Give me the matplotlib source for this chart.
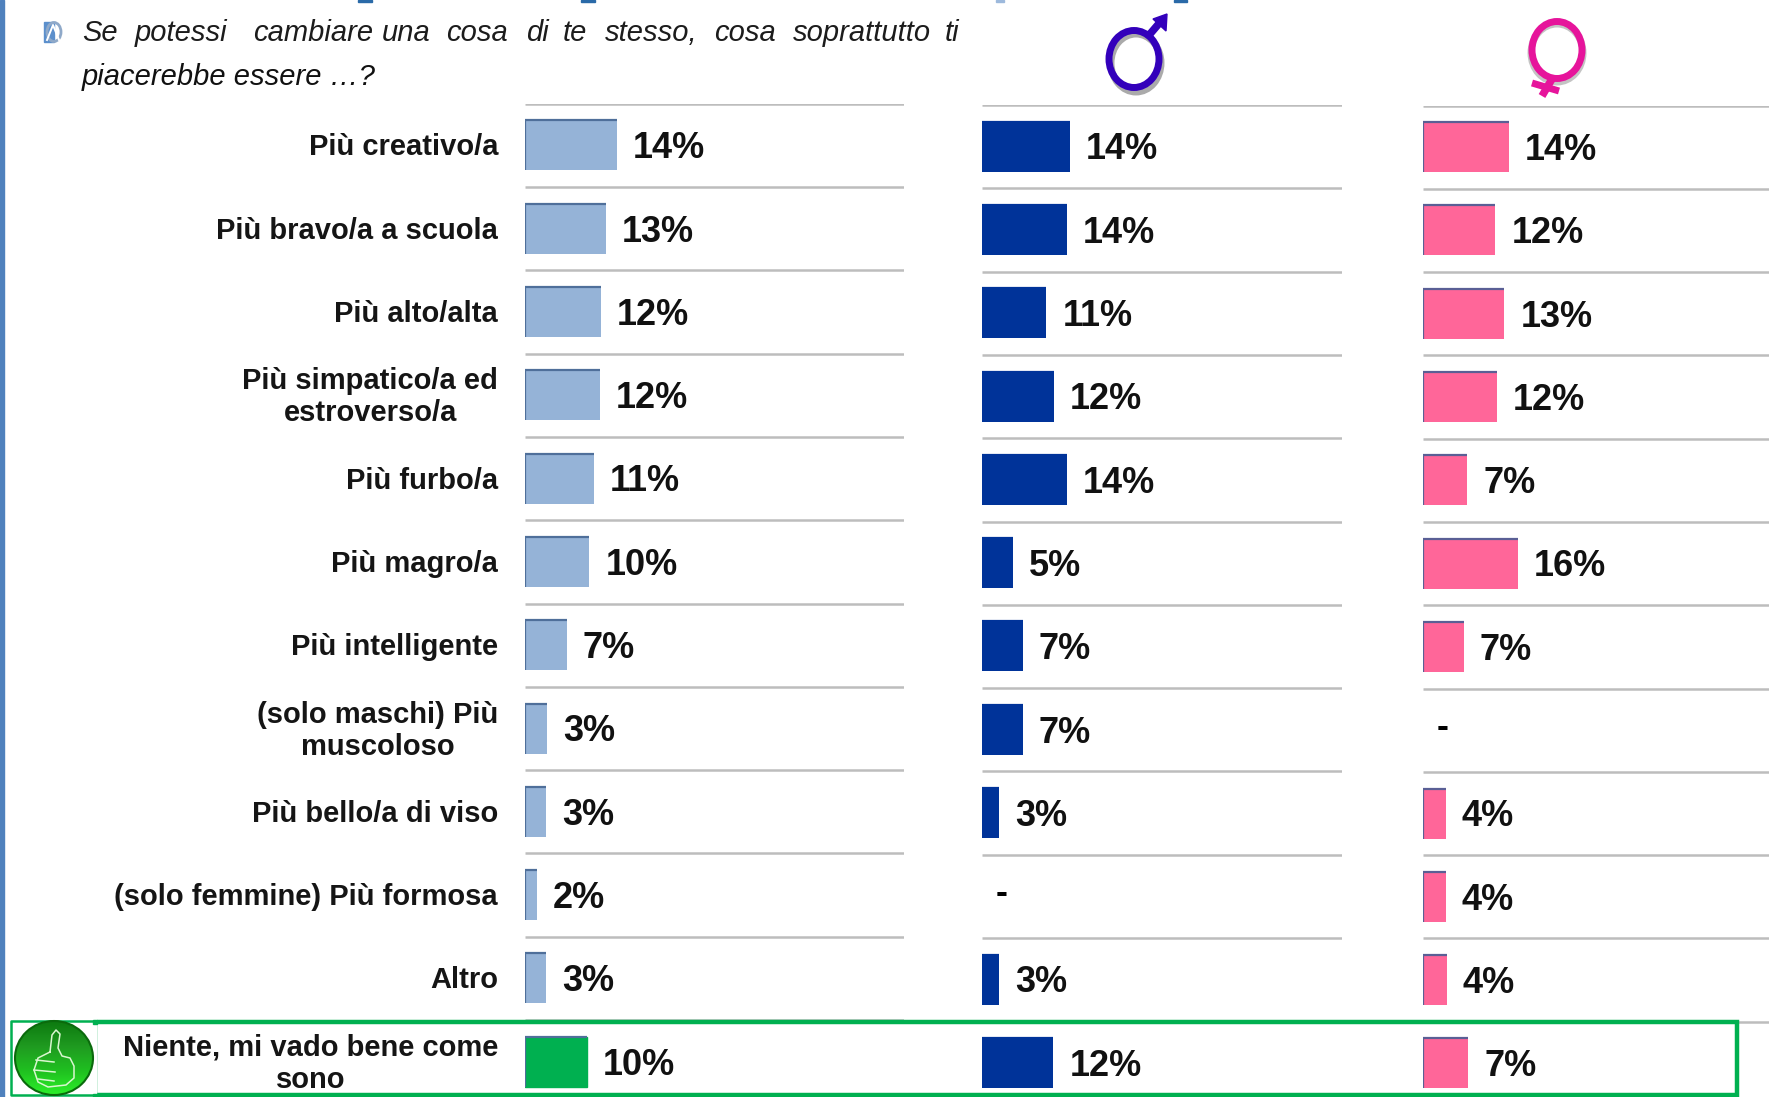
import numpy as np
import matplotlib
matplotlib.use("Agg")
import matplotlib.pyplot as plt
from matplotlib.patches import Ellipse, Rectangle

plt.rcParams['font.family'] = ['Liberation Sans', 'DejaVu Sans']

categories = ["Più creativo/a", "Più bravo/a a scuola", "Più alto/alta",
              "Più simpatico/a ed\nestroverso/a", "Più furbo/a", "Più magro/a",
              "Più intelligente", "(solo maschi) Più\nmuscoloso", "Più bello/a di viso",
              "(solo femmine) Più formosa", "Altro", "Niente, mi vado bene come\nsono"]

# bar lengths, the printed labels are rounded
totale = [14.1, 12.5, 11.7, 11.5, 10.6, 9.9, 6.4, 3.4, 3.2, 1.8, 3.2, 9.5]
maschi = [14.0, 13.5, 10.3, 11.5, 13.5, 4.9, 6.5, 6.5, 2.7, np.nan, 2.7, 11.4]
femmine = [14.3, 12.1, 13.6, 12.3, 7.4, 15.9, 6.8, np.nan, 3.8, 3.8, 4.0, 7.6]

totale_labels = ["14%", "13%", "12%", "12%", "11%", "10%", "7%", "3%", "3%", "2%", "3%", "10%"]
maschi_labels = ["14%", "14%", "11%", "12%", "14%", "5%", "7%", "7%", "3%", "-", "3%", "12%"]
femmine_labels = ["14%", "12%", "13%", "12%", "7%", "16%", "7%", "-", "4%", "4%", "4%", "7%"]

question_words = ["Se", "potessi", "cambiare", "una", "cosa", "di", "te", "stesso,", "cosa", "soprattutto", "ti"]
question_x = [82, 135, 253, 382, 446, 526, 563, 605, 714, 793, 945]
question_end = "piacerebbe essere …?"

W, H = 1769, 1097
STEP = 83.3

fig = plt.figure(figsize=(W / 100, H / 100), dpi=100, facecolor="white")


def make_panel(left, right, top, px_per_pct, values, labels, color, edge):
    bottom = top + 12 * STEP
    ax = fig.add_axes([left / W, 1 - bottom / H, (right - left) / W, (bottom - top) / H])
    ax.set_xlim(0, (right - left) / px_per_pct)
    ax.set_ylim(11.5, -0.5)
    ax.axis("off")
    ax.patch.set_alpha(0)
    y = np.arange(len(values))
    ax.barh(y, values, height=0.6, color=color, zorder=2)
    # darker top and left side of the bars
    ax.hlines(y - 0.3, 0, values, color=edge, lw=1.6, zorder=3)
    ax.vlines(np.where(np.isnan(values), np.nan, 0), y - 0.3, y + 0.3, color=edge, lw=1.6, zorder=3)
    ax.hlines(np.arange(12) - 0.5, 0, ax.get_xlim()[1], color="#bdbdbd", lw=1.8, zorder=1)
    gap = 16 / px_per_pct
    for i in y:
        if labels[i] == "-":
            ax.text(14 / px_per_pct, i - 0.03, "-", fontsize=26, fontweight="bold", ha="left", va="center")
        else:
            ax.text(values[i] + gap, i + 0.04, labels[i], fontsize=26, fontweight="bold",
                    ha="left", va="center", color="#111111")
    return ax


ax1 = make_panel(525, 904, 103.8, 6.49, totale, totale_labels, "#95B3D7", "#4f6f9a")
ax2 = make_panel(982, 1342, 105, 6.26, maschi, maschi_labels, "#003399", "#003399")
ax3 = make_panel(1423, 1769, 105.5, 5.98, femmine, femmine_labels, "#FF6699", "#5a5f95")

# the last bar of the first panel is green
ax1.patches[-1].set_color("#00B050")

for i, name in enumerate(categories):
    ax1.annotate(name, (0, i), xytext=(-27, -2), textcoords="offset pixels", annotation_clip=False,
                 ha="right", va="center", ma="center", fontsize=21, fontweight="bold",
                 color="#151515", linespacing=1.18)

# overlay in pixel coordinates for the decoration
ov = fig.add_axes([0, 0, 1, 1])
ov.set_xlim(0, W)
ov.set_ylim(H, 0)
ov.axis("off")
ov.patch.set_alpha(0)

ov.add_patch(Rectangle((0, 0), 3.5, H, color="#4F81BD"))

# bottoms of the cut off title
ov.add_patch(Rectangle((358, 0), 14, 2, color="#2a6aa8"))
ov.add_patch(Rectangle((581, 0), 14, 2, color="#2a6aa8"))
ov.add_patch(Rectangle((996, 0), 8, 2, color="#9db9dc"))
ov.add_patch(Rectangle((1174, 0), 13, 2, color="#2a6aa8"))

# question text, first line is justified so each word is placed alone
for word, x in zip(question_words, question_x):
    ov.text(x, 33, word, fontsize=21, style="italic", ha="left", va="center", color="#1c1c1c")
ov.text(82, 77, question_end, fontsize=21, style="italic", ha="left", va="center", color="#111111")

# bullet
ov.add_patch(Rectangle((44, 22), 10, 20, color="#5b8fcc"))
ov.add_patch(Ellipse((54, 32), 14, 19, fill=False, ec="#8fa9c9", lw=2))
ov.plot([47, 53, 59], [40, 25, 40], color="white", lw=1.4)

# green highlight box, thin where it goes round the icon
ov.add_patch(Rectangle((95, 1022), 1642, 73, fill=False, ec="#00B050", lw=3.2))
ov.add_patch(Rectangle((8, 1018), 88, 79, color="white", zorder=3))
ov.plot([95, 11, 11, 95], [1020.5, 1020.5, 1095, 1095], color="#00B050", lw=1.8, zorder=3.5)
ov.add_patch(Rectangle((93, 1020), 4, 4, color="#00B050", zorder=3.6))
ov.add_patch(Rectangle((93, 1093.5), 4, 3, color="#00B050", zorder=3.6))


def male(cx, cy):
    ov.add_patch(Ellipse((cx + 2, cy + 4), 50, 58, fill=False, ec="#aaaaaa", lw=5))
    ov.add_patch(Ellipse((cx, cy), 50, 57, fill=False, ec="#3300bb", lw=5))
    ov.plot([cx + 16, cx + 28], [cy - 25, cy - 39], color="#3300bb", lw=5.5, solid_capstyle="butt")
    ov.fill([cx + 19, cx + 33, cx + 32], [cy - 40, cy - 45, cy - 28], color="#3300bb")


def female(cx, cy):
    ov.add_patch(Ellipse((cx, cy + 3), 52, 58, fill=False, ec="#c4c4c4", lw=5))
    ov.add_patch(Ellipse((cx, cy), 50, 57, fill=False, ec="#e6149b", lw=5))
    ov.plot([cx - 5, cx - 15], [cy + 29, cy + 46], color="#e6149b", lw=5.5, solid_capstyle="butt")
    ov.plot([cx - 25, cx + 2], [cy + 33, cy + 41], color="#e6149b", lw=5, solid_capstyle="butt")


male(1134, 59)
female(1557, 50)

# thumb icon on the highlight box
grad = np.linspace(0, 1, 64).reshape(-1, 1)
cmap = matplotlib.colors.LinearSegmentedColormap.from_list("g", ["#0d7a10", "#1f9a20", "#20c020", "#2cf02a"])
im = ov.imshow(grad, extent=(15, 93, 1096, 1021), cmap=cmap, aspect="auto", zorder=4)
clip = Ellipse((54, 1058), 78, 74, transform=ov.transData, fc="none", ec="none")
ov.add_patch(clip)
im.set_clip_path(clip)
ov.add_patch(Ellipse((54, 1058), 78, 74, fill=False, ec="#0a6a0c", lw=1.5, zorder=5))
ov.set_xlim(0, W)
ov.set_ylim(H, 0)
thumb_x = [50, 52, 56, 60, 58, 62, 70, 74, 74, 66, 48, 38, 34, 38, 50]
thumb_y = [1052, 1035, 1030, 1034, 1048, 1056, 1058, 1066, 1078, 1085, 1087, 1082, 1070, 1058, 1052]
ov.plot(thumb_x, thumb_y, color="#d9f7d0", lw=1.1, zorder=6)
for x0, x1, yy in [(36, 54, 1060), (34, 55, 1070), (38, 54, 1079)]:
    ov.plot([x0, x1], [yy, yy + 2], color="#d9f7d0", lw=1.1, zorder=6)

fig.savefig("out.png", dpi=100)
